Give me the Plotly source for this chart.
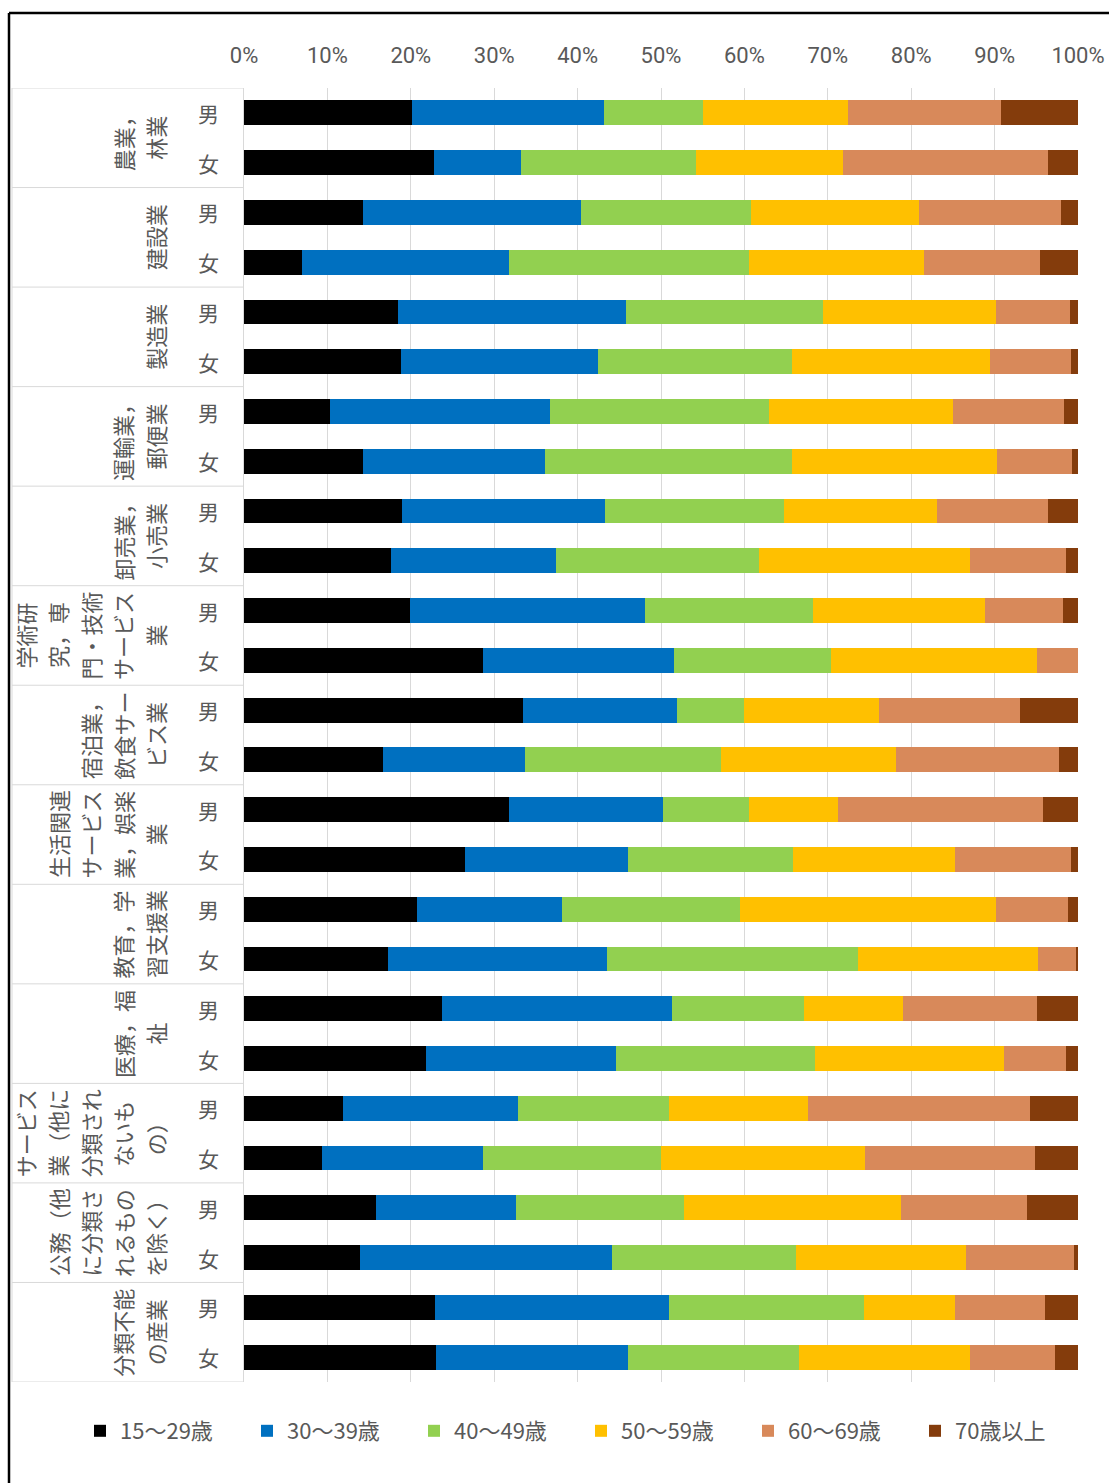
import plotly.graph_objects as go

# --- data -----------------------------------------------------------------
industries = [
    "農業，林業", "建設業", "製造業", "運輸業，郵便業", "卸売業，小売業",
    "学術研究，専門・技術サービス業", "宿泊業，飲食サービス業",
    "生活関連サービス業，娯楽業", "教育，学習支援業", "医療，福祉",
    "サービス業（他に分類されないもの）", "公務（他に分類されるものを除く）",
    "分類不能の産業",
]
# wrapped lines of each industry label (read bottom-to-top, left column first)
industry_lines = [
    ["農業，", "林業"],
    ["建設業"],
    ["製造業"],
    ["運輸業，", "郵便業"],
    ["卸売業，", "小売業"],
    ["学術研", "究，専", "門・技術", "サービス", "業"],
    ["宿泊業，", "飲食サー", "ビス業"],
    ["生活関連", "サービス", "業，娯楽", "業"],
    ["教育，学", "習支援業"],
    ["医療，福", "祉"],
    ["サービス", "業（他に", "分類され", "ないも", "の）"],
    ["公務（他", "に分類さ", "れるもの", "を除く）"],
    ["分類不能", "の産業"],
]
sexes = ["男", "女"]

age_groups = ["15～29歳", "30～39歳", "40～49歳", "50～59歳", "60～69歳", "70歳以上"]

# share (%) per row: industry × (男, 女)
age15_29 = [20.1, 22.7, 14.3, 7.0, 18.5, 18.8, 10.3, 14.3, 19.0, 17.6, 19.9, 28.7, 33.4,
            16.7, 31.8, 26.5, 20.7, 17.3, 23.7, 21.8, 11.9, 9.3, 15.9, 13.9, 22.9, 23.0]
age30_39 = [23.0, 10.5, 26.1, 24.8, 27.2, 23.7, 26.4, 21.8, 24.3, 19.8, 28.2, 22.9, 18.5,
            17.0, 18.4, 19.6, 17.4, 26.3, 27.6, 22.9, 21.0, 19.3, 16.7, 30.3, 28.0, 23.1]
age40_49 = [11.9, 21.0, 20.5, 28.7, 23.6, 23.2, 26.3, 29.6, 21.5, 24.4, 20.1, 18.9, 8.1,
            23.5, 10.4, 19.7, 21.4, 30.1, 15.8, 23.8, 18.1, 21.3, 20.2, 22.1, 23.4, 20.5]
age50_59 = [17.4, 17.6, 20.1, 21.0, 20.8, 23.8, 22.0, 24.6, 18.3, 25.2, 20.6, 24.7, 16.1,
            21.0, 10.6, 19.4, 30.7, 21.6, 11.9, 22.7, 16.6, 24.5, 26.0, 20.3, 11.0, 20.4]
age60_69 = [18.3, 24.5, 17.0, 14.0, 8.8, 9.7, 13.3, 9.0, 13.3, 11.6, 9.4, 4.9, 16.9,
            19.6, 24.6, 14.0, 8.6, 4.6, 16.1, 7.5, 26.6, 20.3, 15.2, 13.0, 10.8, 10.3]
age70_over = [9.2, 3.6, 2.1, 4.5, 1.0, 0.8, 1.7, 0.7, 3.6, 1.4, 1.8, 0.0, 7.0,
              2.3, 4.2, 0.8, 1.2, 0.2, 4.9, 1.4, 5.8, 5.2, 6.1, 0.5, 3.9, 2.7]

x_ticks = [0, 10, 20, 30, 40, 50, 60, 70, 80, 90, 100]

# --- styling ----------------------------------------------------------------
colors = ["#000000", "#0070C0", "#92D050", "#FFC000", "#D8895A", "#843C0C"]
GREY_TEXT = "#595959"
GRID = "#D9D9D9"
JP_FONT = "Noto Sans CJK JP, Noto Sans, sans-serif"
NUM_FONT = "Liberation Sans Narrow, Roboto, Noto Sans, sans-serif"

W, H = 1109, 1483
L, R, T, B = 244, 31, 88, 101
PW, PH = W - L - R, H - T - B


def px_x(px):
    return (px - L) / PW


def px_y(py):
    return (H - B - py) / PH


rows = [f"{ind}｜{sex}" for ind in industries for sex in sexes]
series = [age15_29, age30_39, age40_49, age50_59, age60_69, age70_over]

fig = go.Figure()
for name, vals, col in zip(age_groups, series, colors):
    fig.add_trace(go.Bar(
        y=rows, x=vals, orientation="h", name=name,
        marker=dict(color=col, line=dict(width=0)),
    ))

annotations = []
# 男 / 女 labels next to each bar
for i, r in enumerate(rows):
    annotations.append(dict(
        x=px_x(208), xref="paper", y=i, yref="y", text=sexes[i % 2],
        showarrow=False, xanchor="center", yanchor="middle",
        font=dict(family=JP_FONT, size=21, color=GREY_TEXT),
    ))
# rotated industry labels, one column per wrapped line
COL_STEP = 32.5
for g, lines in enumerate(industry_lines):
    n = len(lines)
    for k, line in enumerate(lines):
        cx = 155 - COL_STEP * (n - 1 - k)
        annotations.append(dict(
            x=px_x(cx), xref="paper", y=2 * g + 0.5, yref="y", text=line,
            textangle=-90, showarrow=False, xanchor="center", yanchor="middle",
            font=dict(family=JP_FONT, size=22, color=GREY_TEXT),
        ))

shapes = []
# group separators in the label area
for b in range(len(industries) + 1):
    shapes.append(dict(
        type="line", xref="paper", yref="y", x0=px_x(12), x1=0,
        y0=2 * b - 0.5, y1=2 * b - 0.5, line=dict(color=GRID, width=1),
    ))
shapes.append(dict(
    type="line", xref="paper", yref="paper", x0=px_x(12), x1=px_x(12),
    y0=0, y1=1, line=dict(color=GRID, width=1),
))
# outer frame
shapes.append(dict(
    type="line", xref="paper", yref="paper", x0=px_x(9), x1=px_x(9),
    y0=px_y(1495), y1=px_y(13), line=dict(color="#000000", width=2.5),
))
shapes.append(dict(
    type="line", xref="paper", yref="paper", x0=px_x(9), x1=px_x(1120),
    y0=px_y(13), y1=px_y(13), line=dict(color="#000000", width=2.5),
))

fig.update_layout(
    width=W, height=H,
    margin=dict(l=L, r=R, t=T, b=B, pad=0, autoexpand=False),
    barmode="stack", barnorm="percent", bargap=0.5,
    plot_bgcolor="#FFFFFF", paper_bgcolor="#FFFFFF",
    font=dict(family=JP_FONT, color=GREY_TEXT),
    xaxis=dict(
        side="top", range=[0, 100], tickvals=x_ticks,
        ticktext=[f"{v}%" for v in x_ticks],
        showgrid=True, gridcolor=GRID, gridwidth=1,
        zeroline=False, showline=False, ticks="",
        tickfont=dict(family=NUM_FONT, size=22, color=GREY_TEXT),
        ticklabelstandoff=20,
    ),
    yaxis=dict(
        type="category", categoryorder="array", categoryarray=rows,
        range=[len(rows) - 0.5, -0.5], showticklabels=False,
        showgrid=False, zeroline=False, showline=True, linecolor=GRID,
        linewidth=1, ticks="",
    ),
    legend=dict(
        orientation="h", traceorder="normal",
        x=px_x(80), xanchor="left", y=px_y(1431), yanchor="middle",
        entrywidth=122, entrywidthmode="pixels",
        font=dict(family=JP_FONT, size=22, color=GREY_TEXT),
        bgcolor="rgba(0,0,0,0)",
    ),
    annotations=annotations,
    shapes=shapes,
    showlegend=True,
)

fig.write_html("out.html")
